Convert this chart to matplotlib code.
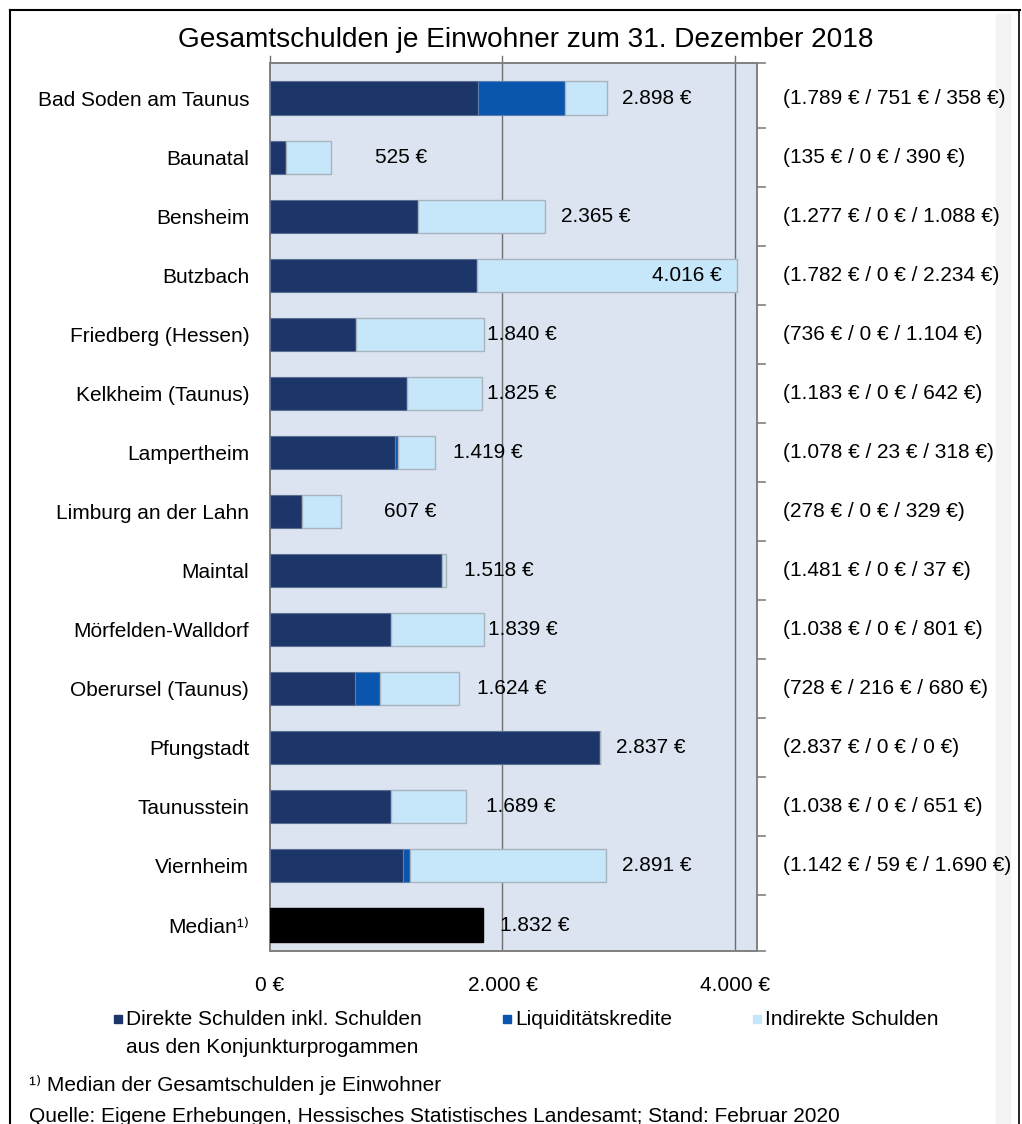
import numpy as np
import matplotlib.pyplot as plt
from matplotlib.lines import Line2D
from matplotlib.patches import Rectangle

plt.rcParams['font.family'] = ['Liberation Sans', 'DejaVu Sans']

staedte = ["Bad Soden am Taunus", "Baunatal", "Bensheim", "Butzbach",
           "Friedberg (Hessen)", "Kelkheim (Taunus)", "Lampertheim",
           "Limburg an der Lahn", "Maintal", "Mörfelden-Walldorf",
           "Oberursel (Taunus)", "Pfungstadt", "Taunusstein", "Viernheim"]
direkt = [1789, 135, 1277, 1782, 736, 1183, 1078, 278, 1481, 1038, 728, 2837, 1038, 1142]
liquid = [751, 0, 0, 0, 0, 0, 23, 0, 0, 0, 216, 0, 0, 59]
indirekt = [358, 390, 1088, 2234, 1104, 642, 318, 329, 37, 801, 680, 0, 651, 1690]
median = 1832
xticks = [0, 2000, 4000]
xticklabels = ["0 €", "2.000 €", "4.000 €"]


def fmt(v):
    return f"{v:,}".replace(",", ".") + " €"


c_dir = '#1d3669'
c_liq = '#0a55ad'
c_ind = '#c6e6fa'
c_bg = '#dbe4f0'
c_grid = '#6e6e6e'
fs = 15

fig = plt.figure(figsize=(10.22, 11.24), dpi=100)
ax = fig.add_axes([270 / 1022, 1 - 951 / 1124, 487 / 1022, 888 / 1124])
ax.set_facecolor(c_bg)

n = len(staedte)
y = np.arange(n + 1)
h = 0.56
d = np.array(direkt)
l = np.array(liquid)
i_ = np.array(indirekt)
tot = d + l + i_

ax.barh(y[:n], d, height=h, color=c_dir, edgecolor='#5a6f92', linewidth=0.8, zorder=3)
ax.barh(y[:n], l, left=d, height=h, color=c_liq, edgecolor='#5a7fb0', linewidth=0.8, zorder=3)
ax.barh(y[:n], i_, left=d + l, height=h, color=c_ind, edgecolor='#a9b3bd', linewidth=1.0, zorder=3)
ax.barh([n], [median], height=h, color='black', edgecolor='black', zorder=3)

ytop = -0.593
ax.set_xlim(0, 4190)
ax.set_ylim(n + 0.44, ytop)
for gx in xticks[1:]:
    ax.axvline(gx, color=c_grid, lw=1.0, zorder=1)
    ax.plot([gx, gx], [ytop, ytop - 0.12], color=c_grid, lw=1.0, clip_on=False)
ax.plot([0, 0], [ytop, ytop - 0.12], color=c_grid, lw=1.0, clip_on=False)

for s in ax.spines.values():
    s.set_color('#808080')
    s.set_linewidth(1.4)

ax.set_xticks(xticks)
ax.set_xticklabels(xticklabels, fontsize=fs)
ax.tick_params(axis='x', length=0, pad=18)
ax.set_yticks(y)
ax.set_yticklabels(staedte + ["Median¹⁾"], fontsize=fs)
ax.tick_params(axis='y', length=0, pad=15)

# kleine Striche rechts zwischen den Zeilen
for b in list(np.arange(0.5, n, 1.0)) + [ytop, n + 0.44]:
    ax.plot([4190, 4260], [b, b], color='#808080', lw=1.2, clip_on=False)

# Summen an den Balken
pads = [15, 44, 16, 0, 3, 5, 18, 43, 18, 4, 18, 16, 20, 16]
for k in range(n):
    if k == 3:
        ax.annotate(fmt(tot[k]), (tot[k], y[k]), xytext=(-15, 0),
                    textcoords='offset pixels', ha='right', va='center',
                    fontsize=fs, zorder=4)
    else:
        ax.annotate(fmt(tot[k]), (tot[k], y[k]), xytext=(pads[k], 0),
                    textcoords='offset pixels', ha='left', va='center',
                    fontsize=fs, zorder=4)
ax.annotate(fmt(median), (median, n), xytext=(17, 0), textcoords='offset pixels',
            ha='left', va='center', fontsize=fs, zorder=4)

# Aufschluesselung rechts
for k in range(n):
    txt = f"({fmt(direkt[k])} / {fmt(liquid[k])} / {fmt(indirekt[k])})"
    ax.annotate(txt, (4190, y[k]), xytext=(26, 0), textcoords='offset pixels',
                ha='left', va='center', fontsize=fs, annotation_clip=False)

fig.text(526 / 1022, 1 - 40 / 1124, "Gesamtschulden je Einwohner zum 31. Dezember 2018",
         ha='center', va='center', fontsize=20.2)

# Legende
leg = [(114, c_dir, "Direkte Schulden inkl. Schulden\naus den Konjunkturprogammen"),
       (503, c_liq, "Liquiditätskredite"),
       (753, c_ind, "Indirekte Schulden")]
for lx, col, lab in leg:
    fig.patches.append(Rectangle((lx / 1022, 1 - 1023 / 1124), 8 / 1022, 8 / 1124,
                                 transform=fig.transFigure, color=col))
    fig.text((lx + 12) / 1022, 1 - 1010 / 1124, lab, ha='left', va='top',
             fontsize=fs, linespacing=1.6)

fig.text(29 / 1022, 1 - 1085 / 1124, "¹⁾ Median der Gesamtschulden je Einwohner",
         ha='left', va='center', fontsize=fs)
fig.text(29 / 1022, 1 - 1116 / 1124,
         "Quelle: Eigene Erhebungen, Hessisches Statistisches Landesamt; Stand: Februar 2020",
         ha='left', va='center', fontsize=fs)

# Rahmen
fig.patches.append(Rectangle((996 / 1022, 0), 14 / 1022, 1 - 14 / 1124,
                             transform=fig.transFigure, color='#f3f3f3', zorder=-1))
fig.add_artist(Line2D([10 / 1022, 10 / 1022], [0, 1 - 10 / 1124], color='black', lw=1.5,
                      transform=fig.transFigure))
fig.add_artist(Line2D([10 / 1022, 1020 / 1022], [1 - 10 / 1124, 1 - 10 / 1124], color='black',
                      lw=1.5, transform=fig.transFigure))
fig.add_artist(Line2D([1019 / 1022, 1019 / 1022], [0, 1 - 10 / 1124], color='black', lw=1.2,
                      transform=fig.transFigure))

fig.savefig("out.png", dpi=100)
